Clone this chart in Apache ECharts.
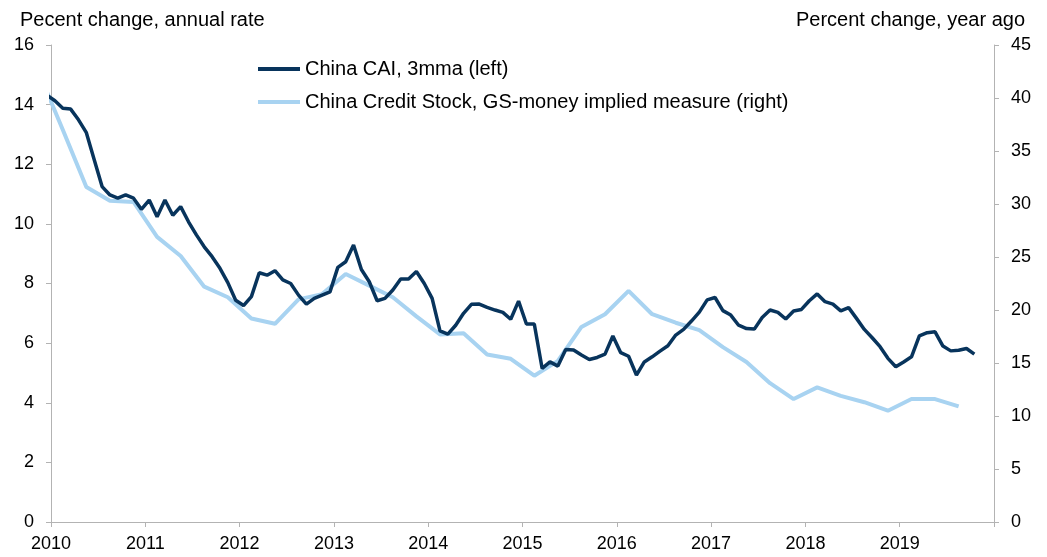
<!DOCTYPE html>
<html>
<head>
<meta charset="utf-8">
<script src="https://cdn.jsdelivr.net/npm/echarts@6/dist/echarts.min.js"></script>
<style>
  html, body { margin: 0; padding: 0; background: #fff; }
  #chart { width: 1047px; height: 557px; }
</style>
</head>
<body>
<div id="chart"></div>
<script>
// China CAI, 3mma (left axis), monthly, first value 2009-12 (clipped at the axis)
const caiStart = '2009-12';
const caiValues = [
  14.31,
  14.13, 13.88, 13.85, 13.49, 13.06, 12.15, 11.25, 10.97, 10.86, 10.97, 10.86, 10.49,
  10.80, 10.24, 10.80, 10.29, 10.58, 10.07, 9.63, 9.23, 8.90, 8.51, 8.03, 7.44,
  7.26, 7.56, 8.36, 8.28, 8.43, 8.12, 8.00, 7.61, 7.31, 7.50, 7.61, 7.72,
  8.54, 8.73, 9.29, 8.47, 8.06, 7.42, 7.50, 7.78, 8.15, 8.15, 8.40, 8.00,
  7.50, 6.41, 6.30, 6.60, 7.00, 7.30, 7.31, 7.20, 7.11, 7.03, 6.80, 7.41,
  6.64, 6.64, 5.15, 5.37, 5.23, 5.79, 5.77, 5.60, 5.45, 5.52, 5.63, 6.24,
  5.68, 5.56, 4.93, 5.37, 5.54, 5.73, 5.91, 6.27, 6.46, 6.74, 7.04, 7.45,
  7.53, 7.09, 6.94, 6.60, 6.49, 6.47, 6.86, 7.11, 7.03, 6.81, 7.08, 7.13,
  7.42, 7.65, 7.39, 7.31, 7.08, 7.19, 6.83, 6.46, 6.18, 5.88, 5.49, 5.21,
  5.37, 5.54, 6.24, 6.35, 6.38, 5.90, 5.74, 5.76, 5.82, 5.63
];

// China Credit Stock, GS-money implied (right axis), quarterly, first value 2009-11
const creditStart = '2009-11';
const creditValues = [
  42.3, 37.0, 31.6, 30.3, 30.2, 26.9, 25.1, 22.2, 21.2, 19.2,
  18.7, 21.0, 21.5, 23.4, 22.3, 21.2, 19.4, 17.7, 17.8, 15.8,
  15.4, 13.8, 15.2, 18.4, 19.6, 21.8, 19.6, 18.8, 18.1, 16.5,
  15.1, 13.1, 11.6, 12.7, 11.9, 11.3, 10.5, 11.6, 11.6, 10.9
];

const leftTicks = { min: 0, max: 16, step: 2 };
const rightTicks = { min: 0, max: 45, step: 5 };
const yearRange = { min: 2010, max: 2020 };

const NAVY = '#08345c', LIGHT = '#a8d3f1', GRIS = '#b3b3b3', FUENTE = 'Liberation Sans';

// month string + offset in months -> decimal year at mid-month
function posicion(inicio, meses) {
  const [a, m] = inicio.split('-').map(Number);
  const idx = (m - 1) + meses;
  return a + (idx + 0.5) / 12;
}

const caiData = caiValues.map((v, i) => [posicion(caiStart, i), v]);
const creditData = creditValues.map((v, i) => [posicion(creditStart, i * 3), v]);

const EJE_Y = {
  type: 'value',
  axisLine: { show: true, lineStyle: { color: GRIS, width: 1 } },
  axisTick: { show: true, length: 5, lineStyle: { color: GRIS } },
  axisLabel: { color: '#000', fontSize: 18, fontFamily: FUENTE, margin: 17 },
  splitLine: { show: false }
};
const TITULO = { color: '#000', fontSize: 20, fontWeight: 'normal', fontFamily: FUENTE };

const chart = echarts.init(document.getElementById('chart'), null, { renderer: 'canvas' });
chart.setOption({
  backgroundColor: '#fff',
  animation: false,
  textStyle: { fontFamily: FUENTE },
  title: [
    { text: 'Pecent change, annual rate', left: 15, top: 5, textStyle: TITULO },
    { text: 'Percent change, year ago', right: 17, top: 5, textStyle: TITULO }
  ],
  legend: {
    orient: 'vertical', left: 253, top: 54,
    icon: 'rect', itemWidth: 42, itemHeight: 4, itemGap: 13,
    textStyle: { color: '#000', fontSize: 20, fontFamily: FUENTE },
    data: ['China CAI, 3mma (left)', 'China Credit Stock, GS-money implied measure (right)']
  },
  grid: { left: 51, right: 53, top: 45, bottom: 35, containLabel: false },
  xAxis: {
    type: 'value', min: yearRange.min, max: yearRange.max, interval: 1,
    axisLine: { show: true, onZero: false, lineStyle: { color: GRIS, width: 1 } },
    axisTick: { show: true, length: 5, lineStyle: { color: GRIS } },
    axisLabel: { color: '#000', fontSize: 18, fontFamily: FUENTE, margin: 13,
                 formatter: (v) => (v === yearRange.max ? '' : String(v)) },
    splitLine: { show: false }
  },
  yAxis: [
    Object.assign({ position: 'left', min: leftTicks.min, max: leftTicks.max, interval: leftTicks.step }, EJE_Y),
    Object.assign({ position: 'right', min: rightTicks.min, max: rightTicks.max, interval: rightTicks.step }, EJE_Y)
  ],
  series: [
    { name: 'China Credit Stock, GS-money implied measure (right)', type: 'line', yAxisIndex: 1,
      data: creditData, symbol: 'none', clip: true,
      lineStyle: { color: LIGHT, width: 4 }, itemStyle: { color: LIGHT } },
    { name: 'China CAI, 3mma (left)', type: 'line', yAxisIndex: 0,
      data: caiData, symbol: 'none', clip: true,
      lineStyle: { color: NAVY, width: 3.5 }, itemStyle: { color: NAVY } }
  ]
});
</script>
</body>
</html>
